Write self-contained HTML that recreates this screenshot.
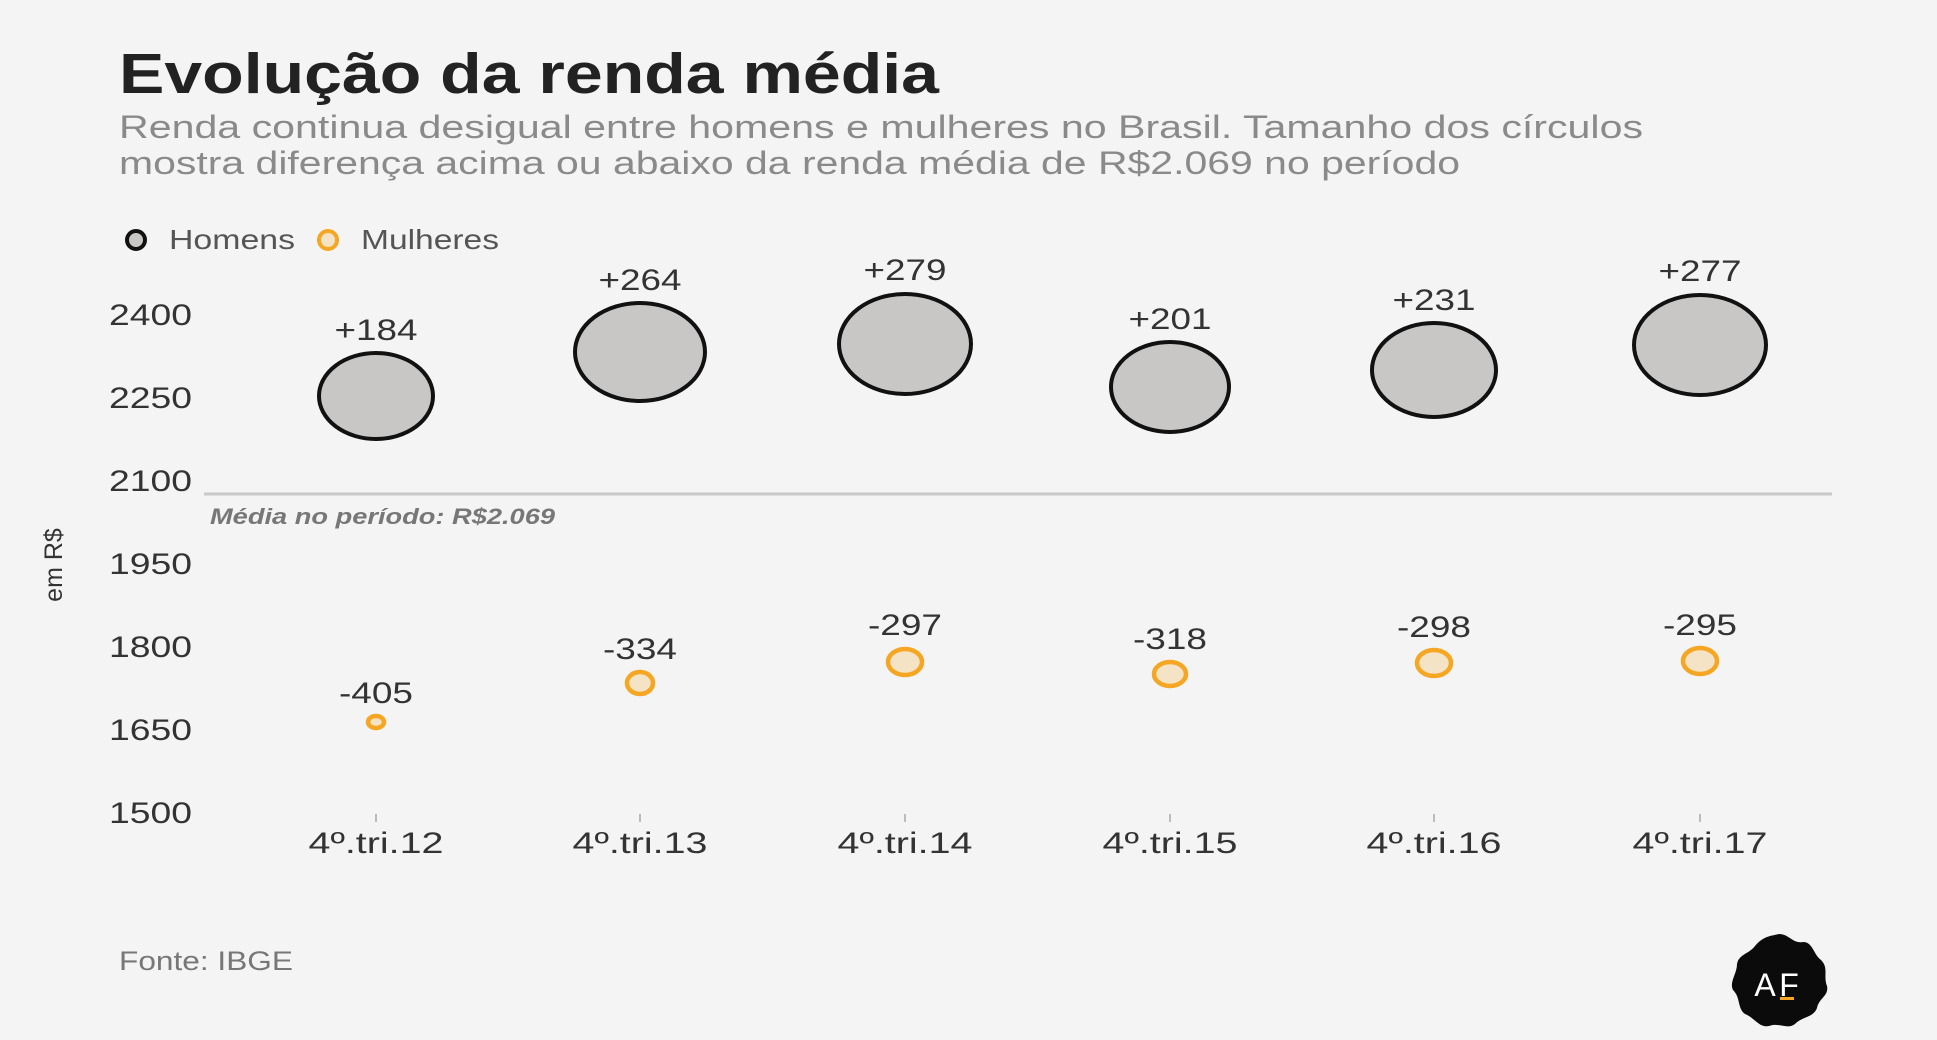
<!DOCTYPE html>
<html><head><meta charset="utf-8"><style>
html,body{margin:0;padding:0;background:#f4f4f4;}
svg{display:block;font-family:"Liberation Sans",sans-serif;}
</style></head><body>
<svg width="1937" height="1040" viewBox="0 0 1937 1040" xmlns="http://www.w3.org/2000/svg">
<rect width="1937" height="1040" fill="#f4f4f4"/>
<text x="119" y="93" font-size="57" font-weight="bold" fill="#222" textLength="820" lengthAdjust="spacingAndGlyphs">Evolução da renda média</text>
<text x="119" y="138" font-size="32" fill="#8a8a8a" textLength="1524" lengthAdjust="spacingAndGlyphs">Renda continua desigual entre homens e mulheres no Brasil. Tamanho dos círculos</text>
<text x="119" y="174" font-size="32" fill="#8a8a8a" textLength="1341" lengthAdjust="spacingAndGlyphs">mostra diferença acima ou abaixo da renda média de R$2.069 no período</text>
<circle cx="136" cy="240" r="9" fill="#c8c7c5" stroke="#111" stroke-width="4"/>
<text x="169" y="249" font-size="28" fill="#555" textLength="126" lengthAdjust="spacingAndGlyphs">Homens</text>
<circle cx="328" cy="240" r="9" fill="#f5e3c6" stroke="#f5a623" stroke-width="4"/>
<text x="361" y="249" font-size="28" fill="#555" textLength="138" lengthAdjust="spacingAndGlyphs">Mulheres</text>
<g font-size="30" fill="#333" text-anchor="end" lengthAdjust="spacingAndGlyphs">
<text x="192" y="325" textLength="83" lengthAdjust="spacingAndGlyphs">2400</text>
<text x="192" y="408" textLength="83" lengthAdjust="spacingAndGlyphs">2250</text>
<text x="192" y="491" textLength="83" lengthAdjust="spacingAndGlyphs">2100</text>
<text x="192" y="574" textLength="83" lengthAdjust="spacingAndGlyphs">1950</text>
<text x="192" y="657" textLength="83" lengthAdjust="spacingAndGlyphs">1800</text>
<text x="192" y="740" textLength="83" lengthAdjust="spacingAndGlyphs">1650</text>
<text x="192" y="823" textLength="83" lengthAdjust="spacingAndGlyphs">1500</text>
</g>
<text transform="translate(62,565) rotate(-90)" font-size="25" fill="#333" text-anchor="middle">em R$</text>
<line x1="204" y1="494" x2="1832" y2="494" stroke="#c8c8c8" stroke-width="3"/>
<text x="210" y="524" font-size="22" font-style="italic" font-weight="bold" fill="#777" textLength="345" lengthAdjust="spacingAndGlyphs">Média no período: R$2.069</text>
<g stroke="#bbb" stroke-width="2">
<line x1="376" y1="814" x2="376" y2="822"/><line x1="640" y1="814" x2="640" y2="822"/><line x1="905" y1="814" x2="905" y2="822"/><line x1="1170" y1="814" x2="1170" y2="822"/><line x1="1434" y1="814" x2="1434" y2="822"/><line x1="1700" y1="814" x2="1700" y2="822"/>
</g>
<g font-size="30" fill="#333" text-anchor="middle">
<text x="376" y="853" textLength="135" lengthAdjust="spacingAndGlyphs">4º.tri.12</text><text x="640" y="853" textLength="135" lengthAdjust="spacingAndGlyphs">4º.tri.13</text><text x="905" y="853" textLength="135" lengthAdjust="spacingAndGlyphs">4º.tri.14</text><text x="1170" y="853" textLength="135" lengthAdjust="spacingAndGlyphs">4º.tri.15</text><text x="1434" y="853" textLength="135" lengthAdjust="spacingAndGlyphs">4º.tri.16</text><text x="1700" y="853" textLength="135" lengthAdjust="spacingAndGlyphs">4º.tri.17</text>
</g>
<g fill="#c8c7c5" stroke="#111" stroke-width="4">
<ellipse cx="376" cy="396" rx="57" ry="43"/>
<ellipse cx="640" cy="352" rx="65" ry="49"/>
<ellipse cx="905" cy="344" rx="66" ry="50"/>
<ellipse cx="1170" cy="387" rx="59" ry="45"/>
<ellipse cx="1434" cy="370" rx="62" ry="47"/>
<ellipse cx="1700" cy="345" rx="66" ry="50"/>
</g>
<g font-size="30" fill="#333" text-anchor="middle">
<text x="376" y="340" textLength="83" lengthAdjust="spacingAndGlyphs">+184</text><text x="640" y="290" textLength="83" lengthAdjust="spacingAndGlyphs">+264</text><text x="905" y="280" textLength="83" lengthAdjust="spacingAndGlyphs">+279</text><text x="1170" y="329" textLength="83" lengthAdjust="spacingAndGlyphs">+201</text><text x="1434" y="310" textLength="83" lengthAdjust="spacingAndGlyphs">+231</text><text x="1700" y="281" textLength="83" lengthAdjust="spacingAndGlyphs">+277</text>
</g>
<g fill="#f5e3c6" stroke="#f5a623" stroke-width="4.5">
<ellipse cx="376" cy="722" rx="8" ry="6"/>
<ellipse cx="640" cy="683" rx="13" ry="11"/>
<ellipse cx="905" cy="662" rx="17" ry="13"/>
<ellipse cx="1170" cy="674" rx="16" ry="12"/>
<ellipse cx="1434" cy="663" rx="17" ry="13"/>
<ellipse cx="1700" cy="661" rx="17" ry="13"/>
</g>
<g font-size="30" fill="#333" text-anchor="middle">
<text x="376" y="703" textLength="74" lengthAdjust="spacingAndGlyphs">-405</text><text x="640" y="659" textLength="74" lengthAdjust="spacingAndGlyphs">-334</text><text x="905" y="635" textLength="74" lengthAdjust="spacingAndGlyphs">-297</text><text x="1170" y="649" textLength="74" lengthAdjust="spacingAndGlyphs">-318</text><text x="1434" y="637" textLength="74" lengthAdjust="spacingAndGlyphs">-298</text><text x="1700" y="635" textLength="74" lengthAdjust="spacingAndGlyphs">-295</text>
</g>
<text x="119" y="970" font-size="27" fill="#777" textLength="174" lengthAdjust="spacingAndGlyphs">Fonte: IBGE</text>
<g transform="translate(1779,982)">
<path d="M0,-48 C10,-48 14,-38 24,-40 C34,-40 34,-28 42,-22 C50,-14 44,-6 48,4 C50,14 40,16 38,26 C34,36 24,34 16,42 C8,48 0,40 -10,44 C-20,46 -24,36 -34,32 C-42,26 -38,16 -46,8 C-50,0 -42,-8 -42,-18 C-40,-28 -30,-28 -24,-36 C-16,-46 -8,-46 0,-48 Z" fill="#0b0b0b"/>
<text x="-14" y="14" font-size="32" fill="#fff" text-anchor="middle">A</text>
<text x="10" y="14" font-size="32" fill="#fff" text-anchor="middle">F</text>
<rect x="1" y="15" width="14" height="3" fill="#f5a623"/>
</g>
</svg>
</body></html>
